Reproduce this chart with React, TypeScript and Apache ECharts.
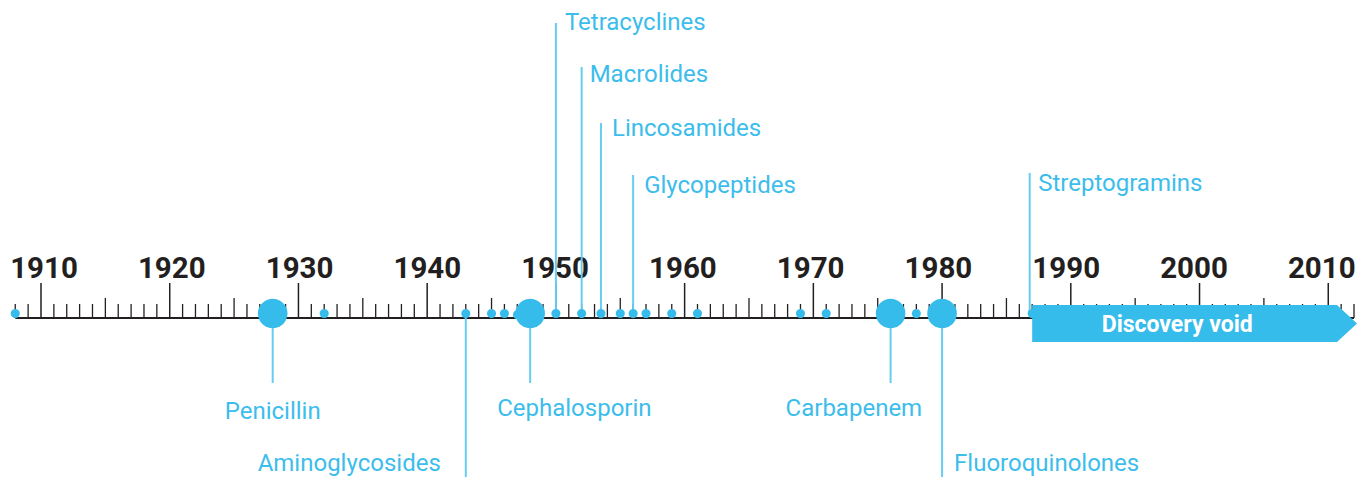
import React, { useEffect, useRef } from "react";
import * as echarts from "echarts";

// ---- data ----
const AXIS_START = 1908;
const AXIS_END = 2012;
const decadeLabels = [1910, 1920, 1930, 1940, 1950, 1960, 1970, 1980, 1990, 2000, 2010];
const classNames = [
  "Penicillin",
  "Aminoglycosides",
  "Cephalosporin",
  "Tetracyclines",
  "Macrolides",
  "Lincosamides",
  "Glycopeptides",
  "Carbapenem",
  "Fluoroquinolones",
  "Streptogramins",
];
const classYears = [1928, 1943, 1948, 1950, 1952, 1953.5, 1956, 1976, 1980, 1987];
const classIsMajor = [true, false, true, false, false, false, false, true, true, false];
const otherDiscoveryYears = [1908, 1932, 1945, 1946, 1947, 1955, 1957, 1959, 1961, 1969, 1971, 1978];
const voidStartYear = 1987;
const voidEndYear = 2012;
const voidLabel = "Discovery void";

// ---- layout (pixels / styles, not data) ----
const DARK = "#231f20";
const DOT = "#35bceb";
const LEADER = "#66cdf1";
const TEXT_BLUE = "#3cbdeb";
const AXIS_Y = 318;
const DOT_Y = 313.5;
const labelLayout = [
  { lineEnd: 383, textY: 411, align: "center", dx: 0, lx: 0 },
  { lineEnd: 477, textY: 463, align: "right", dx: -25, lx: 0 },
  { lineEnd: 383, textY: 408, align: "left", dx: -33, lx: 0 },
  { lineEnd: 23, textY: 22, align: "left", dx: 9, lx: 0 },
  { lineEnd: 67, textY: 74, align: "left", dx: 8, lx: 0 },
  { lineEnd: 123, textY: 128, align: "left", dx: 11, lx: 0 },
  { lineEnd: 175, textY: 185, align: "left", dx: 11, lx: 0 },
  { lineEnd: 383, textY: 408, align: "left", dx: -105, lx: 0 },
  { lineEnd: 477, textY: 463, align: "left", dx: 12, lx: 0 },
  { lineEnd: 173, textY: 183, align: "left", dx: 6, lx: -2.5 },
];

const tickYears: number[] = [];
for (let y = AXIS_START; y <= AXIS_END; y++) tickYears.push(y);

export default function App() {
  const ref = useRef<HTMLDivElement>(null);
  useEffect(() => {
    document.body.style.margin = "0";
    const chart = echarts.init(ref.current!, null, { renderer: "svg" });
    const X = (api: any, v: number) => api.coord([v, 0])[0];

    chart.setOption({
      animation: false,
      grid: { left: 15.25, right: 11, top: 0, bottom: 0 },
      xAxis: { type: "value", min: AXIS_START, max: AXIS_END, show: false },
      yAxis: { type: "value", min: 0, max: 1, show: false },
      series: [
        {
          type: "custom",
          name: "ticks",
          z: 1,
          data: tickYears.map((y) => [y, 0]),
          renderItem: (params: any, api: any) => {
            const yr = api.value(0);
            const x = X(api, yr);
            const top = yr % 10 === 0 ? 283 : yr % 5 === 0 ? 298 : 304;
            return {
              type: "line",
              shape: { x1: x, y1: top, x2: x, y2: AXIS_Y },
              style: { stroke: DARK, lineWidth: yr % 10 === 0 ? 1.5 : 1.3 },
            };
          },
        },
        {
          type: "custom",
          name: "axisLine",
          z: 2,
          data: [[AXIS_START, 0, AXIS_END]],
          renderItem: (params: any, api: any) => {
            const x1 = X(api, api.value(0));
            const x2 = X(api, api.value(2));
            return {
              type: "line",
              shape: { x1, y1: AXIS_Y, x2, y2: AXIS_Y },
              style: { stroke: DARK, lineWidth: 2 },
            };
          },
        },
        {
          type: "custom",
          name: "decades",
          z: 3,
          data: decadeLabels.map((y) => [y, 0]),
          renderItem: (params: any, api: any) => {
            const yr = api.value(0);
            return {
              type: "text",
              x: X(api, yr) + 3 - (yr - 1910) * 0.095,
              y: 268,
              style: {
                text: String(yr),
                fill: DARK,
                font: "bold 29.5px Roboto",
                align: "center",
                verticalAlign: "middle",
              },
            };
          },
        },
        {
          type: "custom",
          name: "void",
          z: 4,
          data: [[voidStartYear, 0, voidEndYear]],
          renderItem: (params: any, api: any) => {
            const left = X(api, api.value(0));
            const tip = X(api, api.value(2)) + 3;
            const body = tip - 20;
            return {
              type: "group",
              children: [
                {
                  type: "polygon",
                  shape: {
                    points: [
                      [left, 305],
                      [body, 305],
                      [tip, 323.5],
                      [body, 342],
                      [left, 342],
                    ],
                  },
                  style: { fill: DOT },
                },
                {
                  type: "text",
                  x: left + 145,
                  y: 324,
                  style: {
                    text: voidLabel,
                    fill: "#ffffff",
                    font: "bold 23px Roboto",
                    align: "center",
                    verticalAlign: "middle",
                  },
                },
              ],
            };
          },
        },
        {
          type: "custom",
          name: "leaders",
          z: 5,
          data: classYears.map((y, i) => [y, 0, i]),
          renderItem: (params: any, api: any) => {
            const i = api.value(2);
            const L = labelLayout[i];
            const x = X(api, api.value(0));
            return {
              type: "group",
              children: [
                {
                  type: "line",
                  shape: { x1: x + L.lx, y1: DOT_Y, x2: x + L.lx, y2: L.lineEnd },
                  style: { stroke: LEADER, lineWidth: 2 },
                },
                {
                  type: "text",
                  x: x + L.dx,
                  y: L.textY,
                  style: {
                    text: classNames[i],
                    fill: TEXT_BLUE,
                    font: "24px Roboto",
                    align: L.align,
                    verticalAlign: "middle",
                  },
                },
              ],
            };
          },
        },
        {
          type: "custom",
          name: "otherDots",
          z: 6,
          data: otherDiscoveryYears.map((y) => [y, 0]),
          renderItem: (params: any, api: any) => ({
            type: "circle",
            shape: { cx: X(api, api.value(0)), cy: DOT_Y, r: 4.5 },
            style: { fill: DOT },
          }),
        },
        {
          type: "custom",
          name: "classDots",
          z: 7,
          data: classYears.map((y, i) => [y, 0, classIsMajor[i] ? 1 : 0]),
          renderItem: (params: any, api: any) => ({
            type: "circle",
            shape: { cx: X(api, api.value(0)), cy: DOT_Y, r: api.value(2) ? 14.8 : 4.5 },
            style: { fill: DOT },
          }),
        },
      ],
    });
    return () => chart.dispose();
  }, []);
  return <div ref={ref} style={{ width: 1365, height: 477 }} />;
}
